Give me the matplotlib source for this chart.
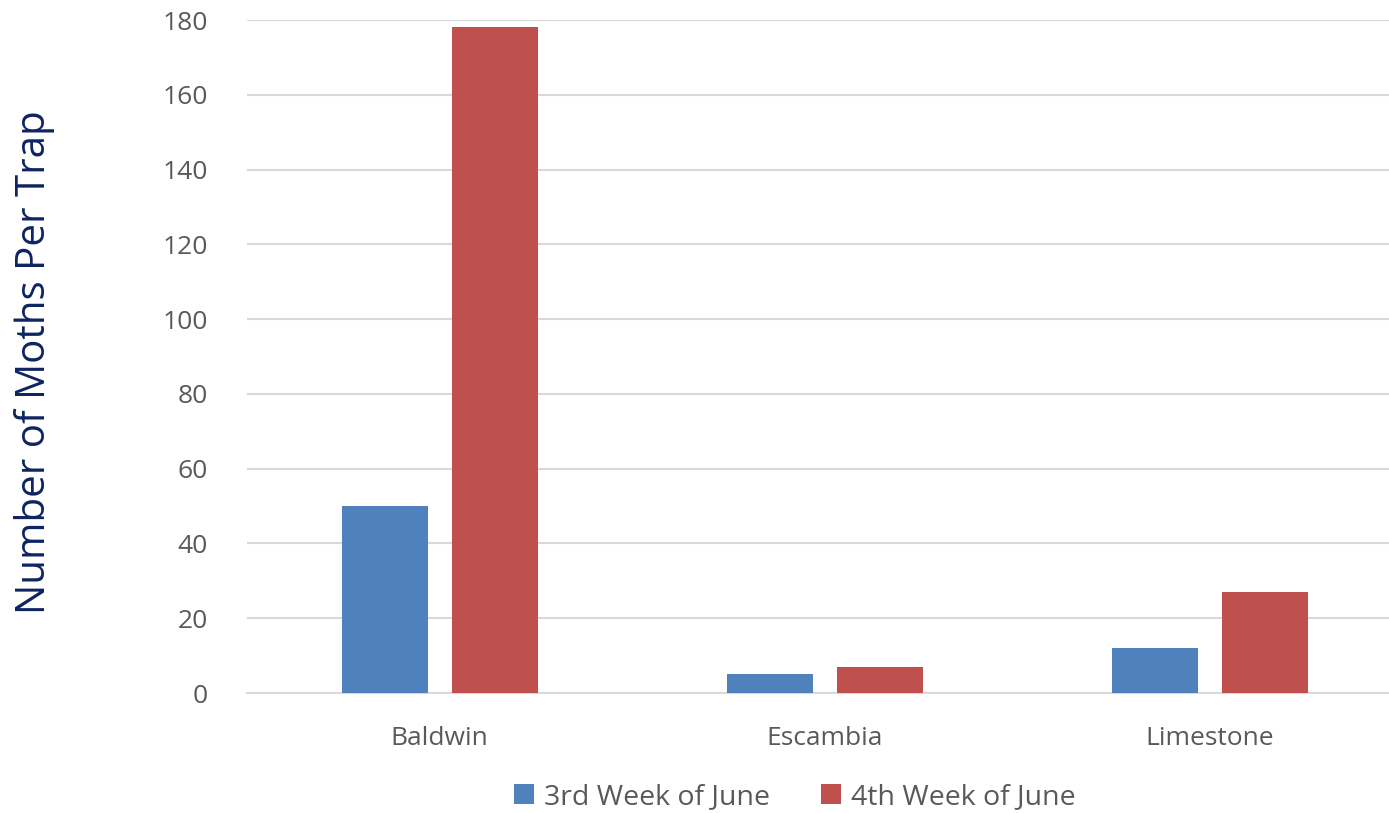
import numpy as np
import matplotlib.pyplot as plt

counties = ['Baldwin', 'Escambia', 'Limestone']
week3 = [50, 5, 12]
week4 = [178, 7, 27]
series_names = ['3rd Week of June', '4th Week of June']

plt.rcParams['font.family'] = ['Open Sans', 'DejaVu Sans']

W, H = 1389, 813
fig = plt.figure(figsize=(W / 100, H / 100), dpi=100)
ax = fig.add_axes([247 / W, 1 - 693 / H, (W - 247) / W, (693 - 20) / H])

x = np.arange(len(counties))
bw = 86 / 385
off = 55 / 385
ax.bar(x - off, week3, bw, color='#4F81BD', label=series_names[0], zorder=3)
ax.bar(x + off, week4, bw, color='#C0504D', label=series_names[1], zorder=3)

ax.set_xlim(-0.5, -0.5 + (W - 247) / 385)
ax.set_ylim(0, 180)
ax.set_yticks(range(0, 181, 20))
ax.set_xticks(x)
ax.set_xticklabels(counties)
ax.grid(axis='y', color='#D9D9D9', linewidth=1.5, zorder=0)
for s in ['top', 'right', 'left']:
    ax.spines[s].set_visible(False)
ax.spines['bottom'].set_color('#D9D9D9')
ax.spines['bottom'].set_linewidth(1.5)
ax.tick_params(axis='both', length=0, labelsize=19, colors='#595959')
ax.tick_params(axis='y', pad=28)
ax.tick_params(axis='x', pad=24)

fig.text(35 / W, 1 - 362 / H, 'Number of Moths Per Trap', rotation=90,
         ha='center', va='center', fontsize=29, color='#0D2461')

fig.legend(loc='center', bbox_to_anchor=(795 / W, 1 - 797 / H), ncol=2,
           frameon=False, fontsize=20.5, labelcolor='#595959',
           handlelength=0.7, handleheight=0.7, handletextpad=0.35,
           columnspacing=1.8)

fig.savefig('out.png', dpi=100)
